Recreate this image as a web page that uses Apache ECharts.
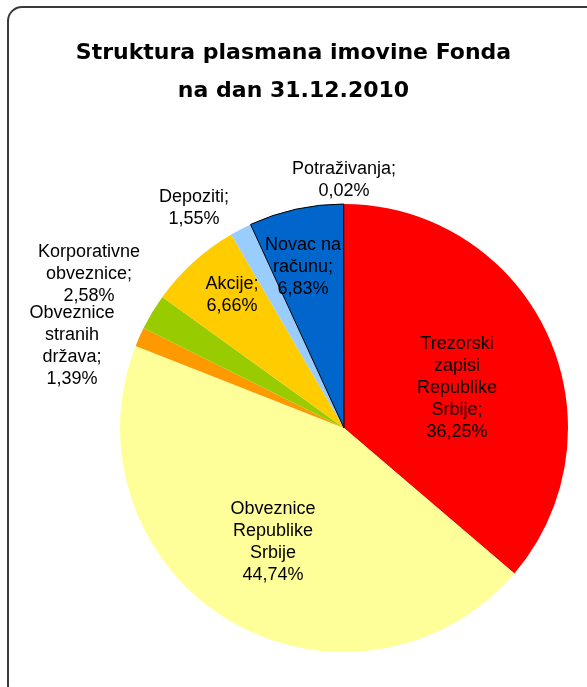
<!DOCTYPE html>
<html>
<head>
<meta charset="utf-8">
<script src="https://cdn.jsdelivr.net/npm/echarts@6/dist/echarts.min.js"></script>
<style>
  html, body { margin: 0; padding: 0; background: #fff; }
  #chart { width: 587px; height: 687px; }
</style>
</head>
<body>
<div id="chart"></div>
<script>
// slices, clockwise from 12 o'clock
var categories = ['Trezorski zapisi Republike Srbije', 'Obveznice Republike Srbije', 'Obveznice stranih država',
  'Korporativne obveznice', 'Akcije', 'Depoziti', 'Novac na računu', 'Potraživanja'];
var labelText = ['Trezorski\nzapisi\nRepublike\nSrbije;', 'Obveznice\nRepublike\nSrbije', 'Obveznice\nstranih\ndržava;',
  'Korporativne\nobveznice;', 'Akcije;', 'Depoziti;', 'Novac na\nračunu;', 'Potraživanja;'];
var values = [36.25, 44.74, 1.39, 2.58, 6.66, 1.55, 6.83, 0.02];
var colors = ['#ff0000', '#ffff99', '#ff9900', '#99cc00', '#ffcc00', '#99ccff', '#0066cc', '#222222'];
// label centres as placed in the original chart
var labelPos = [[457, 388], [273, 542], [72, 346], [89, 274], [232, 295], [194, 208], [303, 267], [344, 180]];

var chart = echarts.init(document.getElementById('chart'));

chart.setOption({
  backgroundColor: '#fff',
  animation: false,
  title: {
    text: 'Struktura plasmana imovine Fonda\nna dan 31.12.2010',
    left: 'center',
    top: 29,
    textStyle: {
      fontFamily: 'DejaVu Sans',
      fontWeight: 'bold',
      fontSize: 22,
      lineHeight: 38,
      color: '#000'
    }
  },
  graphic: [{
    type: 'rect',
    z: -10,
    shape: { x: 8, y: 7, width: 592, height: 692, r: 14 },
    style: { fill: 'none', stroke: '#3a3a3a', lineWidth: 2 }
  }],
  series: [{
    type: 'pie',
    center: [344, 428],
    radius: 224,
    startAngle: 90,
    clockwise: true,
    avoidLabelOverlap: false,
    data: values.map(function (v, i) {
      return {
        name: categories[i],
        value: v,
        itemStyle: {
          color: colors[i],
          borderColor: i === 6 ? '#000' : colors[i],
          borderWidth: i === 6 ? 1 : 0
        }
      };
    }),
    label: {
      show: true,
      position: 'inside',
      fontFamily: 'Liberation Sans',
      fontSize: 18,
      lineHeight: 22,
      color: '#000',
      align: 'center',
      formatter: function (p) {
        return labelText[p.dataIndex] + '\n' + p.value.toFixed(2).replace('.', ',') + '%';
      }
    },
    labelLine: { show: false },
    labelLayout: function (p) {
      var pos = labelPos[p.dataIndex];
      return { x: pos[0], y: pos[1], align: 'center', verticalAlign: 'middle' };
    },
    emphasis: { disabled: true }
  }]
});
</script>
</body>
</html>
